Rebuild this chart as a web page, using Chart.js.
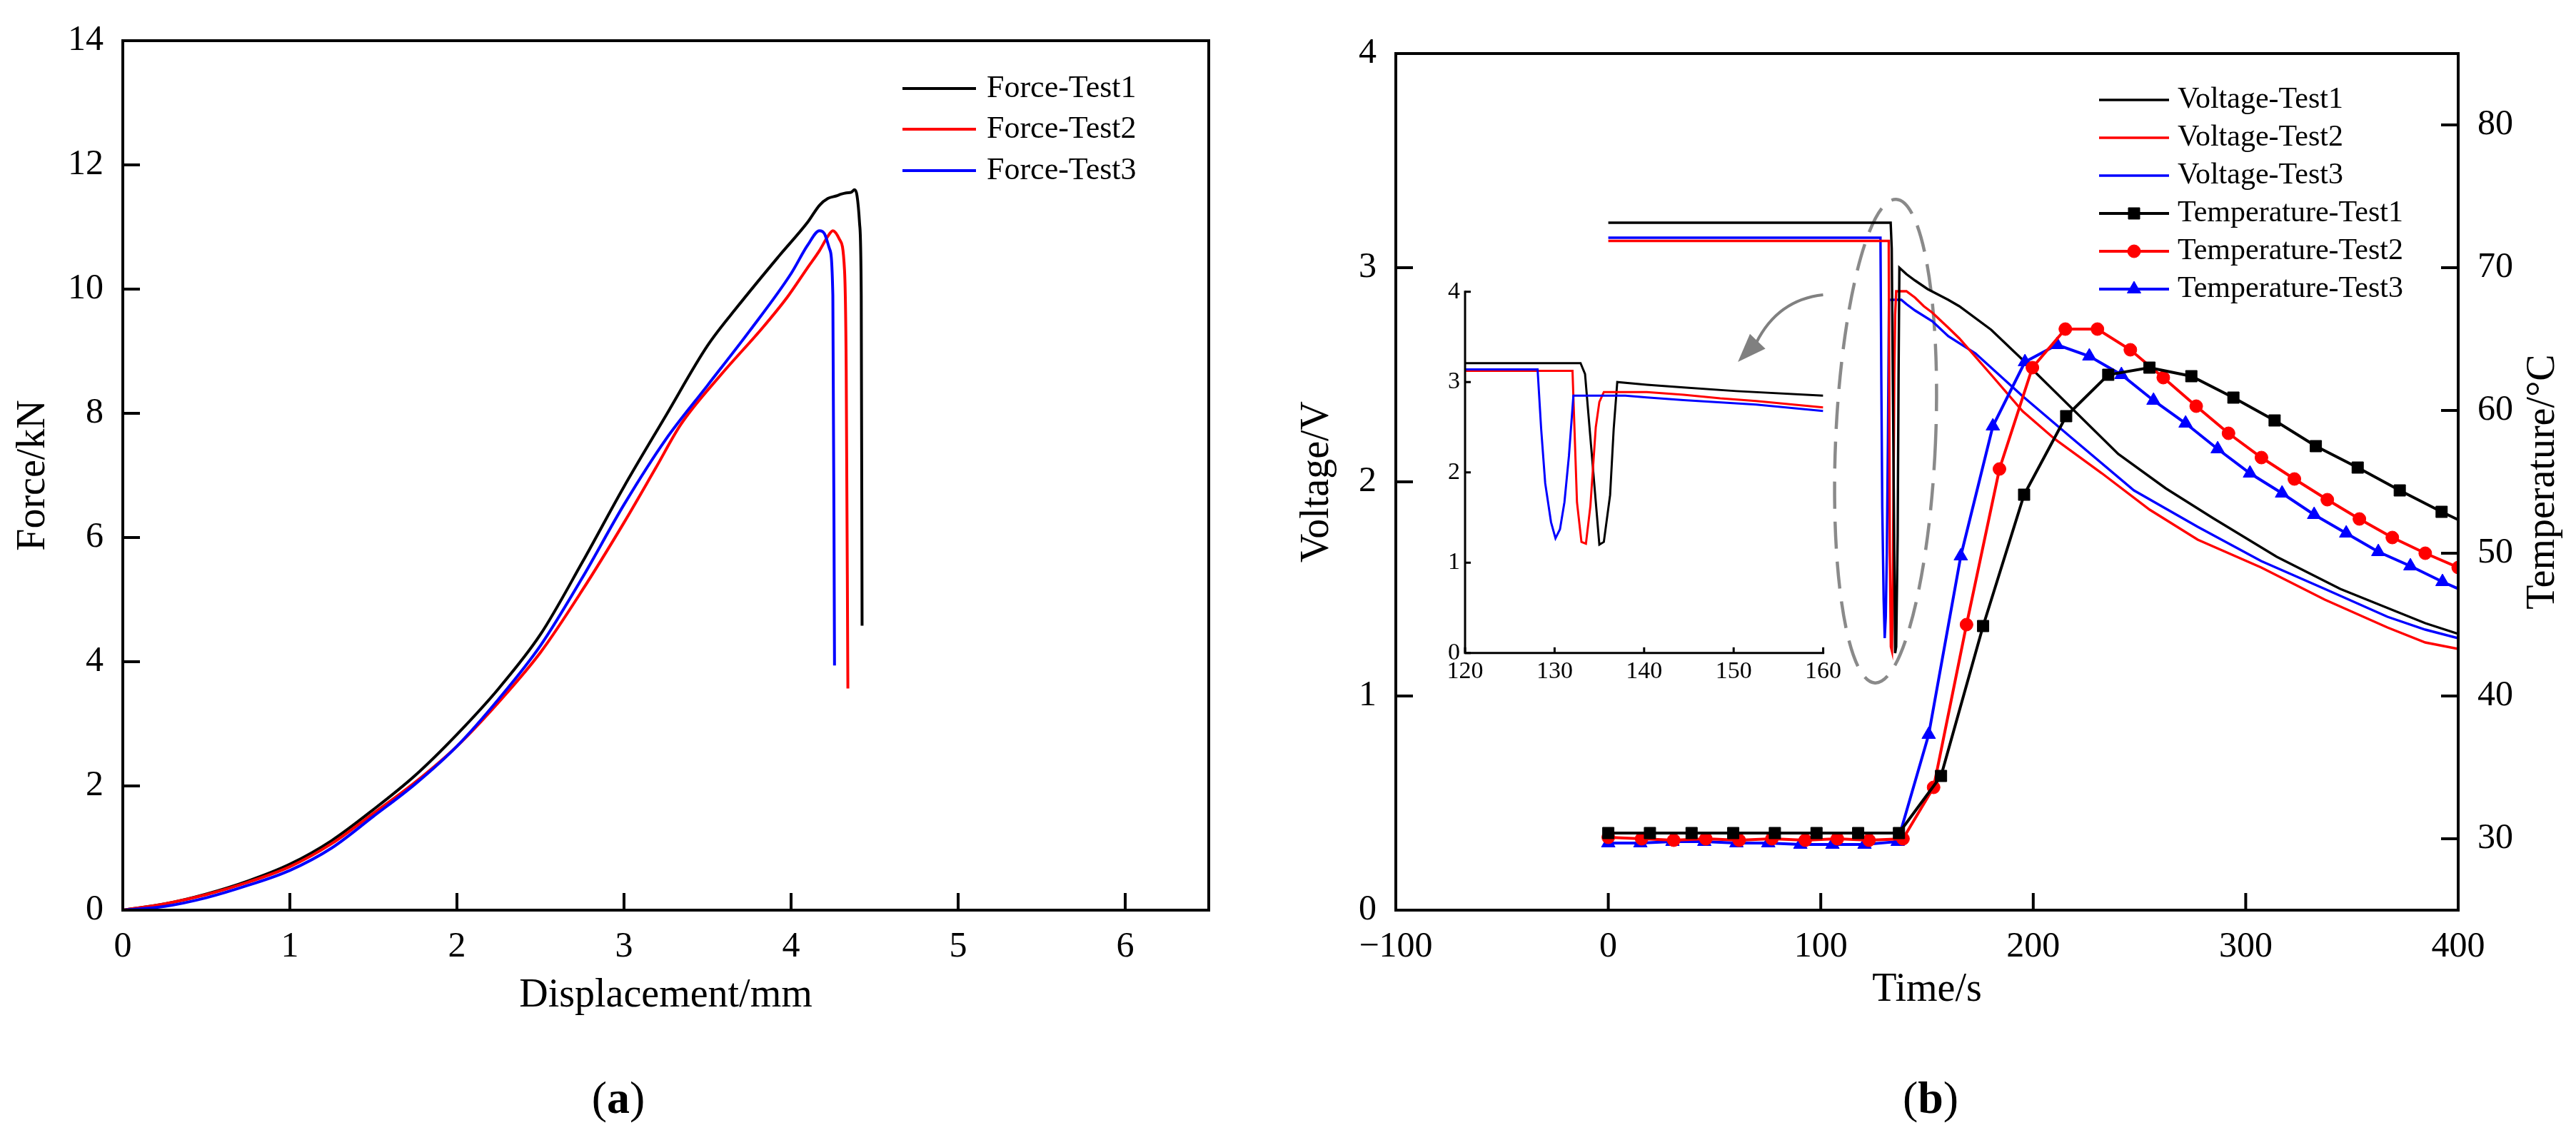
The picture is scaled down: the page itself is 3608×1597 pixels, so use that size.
<!DOCTYPE html>
<html><head><meta charset="utf-8">
<script src="https://cdn.jsdelivr.net/npm/chart.js@4/dist/chart.umd.min.js"></script>
<style>
html,body{margin:0;padding:0;background:#fff;}
#wrap{position:relative;width:3608px;height:1597px;overflow:hidden;background:#fff;}
canvas{position:absolute;}
.panel{position:absolute;font-family:'Liberation Serif','Times New Roman',serif;font-size:64px;line-height:74px;color:#000;transform:translateX(-50%);top:1501px;white-space:nowrap;}
</style></head><body>
<div id="wrap">
<canvas id="ca" width="1800" height="1597" style="left:0;top:0"></canvas>
<canvas id="cb" width="1808" height="1597" style="left:1800px;top:0"></canvas>
<canvas id="ci" width="600" height="590" style="left:1990px;top:380px"></canvas>
<div class="panel" style="left:866px">(<b>a</b>)</div>
<div class="panel" style="left:2704px">(<b>b</b>)</div>
</div>
<script>
// ---------------- DATA ----------------
// (a) Force vs displacement
const forceNames = ['Force-Test1', 'Force-Test2', 'Force-Test3'];
const forceDisp1 = [0, 0.25, 0.5, 0.75, 1, 1.25, 1.5, 1.75, 2, 2.25, 2.5, 2.75, 3, 3.25, 3.5, 3.68, 3.93, 4.1, 4.17, 4.22, 4.27, 4.3, 4.33, 4.36, 4.38, 4.395, 4.41, 4.42, 4.425];
const force1     = [0, 0.1, 0.26, 0.47, 0.74, 1.12, 1.62, 2.17, 2.83, 3.57, 4.44, 5.6, 6.82, 7.96, 9.09, 9.72, 10.54, 11.08, 11.35, 11.46, 11.5, 11.53, 11.55, 11.56, 11.6, 11.5, 11.06, 9.9, 4.58];
const forceDisp2 = [0, 0.25, 0.5, 0.75, 1, 1.25, 1.5, 1.75, 2, 2.25, 2.5, 2.75, 3, 3.19, 3.34, 3.58, 3.83, 3.98, 4.1, 4.17, 4.22, 4.25, 4.29, 4.32, 4.33, 4.34];
const force2     = [0, 0.1, 0.25, 0.45, 0.7, 1.07, 1.56, 2.06, 2.64, 3.35, 4.15, 5.15, 6.24, 7.12, 7.82, 8.62, 9.38, 9.88, 10.35, 10.62, 10.85, 10.94, 10.8, 10.3, 8.7, 3.57];
const forceDisp3 = [0, 0.25, 0.5, 0.75, 1, 1.25, 1.5, 1.75, 2, 2.25, 2.5, 2.75, 3, 3.25, 3.5, 3.75, 4, 4.1, 4.17, 4.2, 4.23, 4.25, 4.26];
const force3     = [0, 0.06, 0.2, 0.4, 0.64, 1.0, 1.51, 2.03, 2.64, 3.4, 4.26, 5.35, 6.53, 7.58, 8.45, 9.32, 10.25, 10.71, 10.94, 10.89, 10.65, 9.9, 3.94];
const dispTicks  = [0, 1, 2, 3, 4, 5, 6];
const forceTicks = [0, 2, 4, 6, 8, 10, 12, 14];

// (b) Voltage vs time
const voltNames = ['Voltage-Test1', 'Voltage-Test2', 'Voltage-Test3'];
const voltTime1 = [0, 132.9, 133.4, 135.0, 135.5, 136.2, 136.6, 137.0, 140.3, 144.4, 150.3, 160, 165.2, 180.2, 195, 217.5, 240, 262.3, 284.7, 314.6, 344.5, 384.5, 400];
const volt1     = [3.21, 3.21, 3.09, 1.20, 1.23, 1.75, 2.48, 3.00, 2.97, 2.94, 2.90, 2.85, 2.82, 2.71, 2.57, 2.35, 2.13, 1.97, 1.83, 1.65, 1.50, 1.34, 1.29];
const voltTime2 = [0, 132, 132.5, 133, 133.5, 134, 134.6, 135, 135.5, 140.3, 144.4, 148.5, 152.5, 160, 165.2, 180.2, 195, 210.1, 232.3, 254.8, 277.4, 307.3, 337.2, 366.7, 384.5, 400];
const volt2     = [3.125, 3.125, 1.67, 1.23, 1.21, 1.63, 2.5, 2.78, 2.89, 2.89, 2.86, 2.82, 2.79, 2.72, 2.67, 2.50, 2.33, 2.20, 2.04, 1.87, 1.73, 1.60, 1.45, 1.32, 1.25, 1.22];
const voltTime3 = [0, 128.1, 128.5, 128.95, 129.6, 130.1, 130.6, 131.1, 131.6, 132.1, 137.9, 140.3, 144.4, 152.5, 160, 172.8, 195, 217.5, 247.4, 277.4, 307.3, 337.2, 366.7, 384.5, 400];
const volt3     = [3.14, 3.14, 2.48, 1.88, 1.45, 1.27, 1.37, 1.67, 2.18, 2.85, 2.85, 2.83, 2.80, 2.75, 2.68, 2.60, 2.40, 2.21, 1.96, 1.79, 1.63, 1.50, 1.37, 1.31, 1.27];

// (b) Temperature vs time
const tempNames = ['Temperature-Test1', 'Temperature-Test2', 'Temperature-Test3'];
const tempTime1 = [0, 19.6, 39.2, 58.8, 78.4, 98, 117.6, 136.8, 156.6, 176.4, 195.7, 215.5, 235.3, 254.7, 274.4, 294.2, 313.6, 333, 352.7, 372.5, 392.2, 411.8];
const temp1     = [30.4, 30.4, 30.4, 30.4, 30.4, 30.4, 30.4, 30.4, 34.4, 44.9, 54.1, 59.6, 62.5, 63.0, 62.4, 60.9, 59.3, 57.5, 56.0, 54.4, 52.9, 51.5];
const tempTime2 = [0, 15.7, 30.8, 45.9, 61.6, 77, 92.7, 107.8, 122.7, 138.7, 153.1, 168.6, 184.1, 199.6, 215.1, 230.2, 245.7, 261.2, 276.7, 291.9, 307.4, 322.9, 338.4, 353.5, 369, 384.5, 400];
const temp2     = [30.1, 30.0, 29.9, 30.0, 29.9, 30.0, 29.9, 30.0, 29.9, 30.0, 33.6, 45.0, 55.9, 63.0, 65.7, 65.7, 64.25, 62.3, 60.3, 58.4, 56.7, 55.2, 53.75, 52.4, 51.1, 50.0, 49.0];
const tempTime3 = [0, 15.1, 30.2, 45.2, 60.3, 75.3, 90.4, 105.5, 120.6, 136.2, 150.8, 165.9, 181, 196.1, 211.2, 226.4, 241.5, 256.6, 271.7, 286.8, 302, 317.1, 332.2, 347.3, 362.4, 377.5, 392.6, 407.7];
const temp3     = [29.7, 29.7, 29.8, 29.8, 29.7, 29.7, 29.6, 29.6, 29.6, 29.8, 37.3, 49.8, 58.9, 63.4, 64.6, 63.8, 62.5, 60.7, 59.1, 57.3, 55.6, 54.2, 52.7, 51.4, 50.1, 49.1, 48.0, 47.0];

const timeTicks  = [-100, 0, 100, 200, 300, 400];
const voltTicks  = [0, 1, 2, 3, 4];
const tempTicks  = [30, 40, 50, 60, 70, 80];
const insetTimeTicks = [120, 130, 140, 150, 160];
const insetVoltTicks = [0, 1, 2, 3, 4];

// ---------------- STYLE / HELPERS ----------------
const FONT = "'Liberation Serif', 'Times New Roman', serif";
Chart.defaults.font.family = FONT;
Chart.defaults.color = '#000';
const COLORS = ['#000000', '#ff0000', '#0000ff'];
const MARKERS = ['rect', 'circle', 'triangle'];
const MARKER_R = [11.3, 9, 11];
const pairs = (xs, ys) => xs.map((x, i) => ({x: x, y: ys[i]}));
const setTicks = vals => (s => { s.ticks = vals.map(v => ({value: v})); });
const fmtMinus = v => (v < 0 ? '\u2212' + Math.abs(v) : String(v));

function framePlugin(cfg) {
  return {
    id: 'frame_' + cfg.id,
    afterDatasetsDraw(chart) {
      const ctx = chart.ctx, a = chart.chartArea;
      ctx.save();
      ctx.strokeStyle = '#000';
      ctx.lineWidth = cfg.lw;
      ctx.setLineDash([]);
      ctx.lineCap = 'butt';
      cfg.ticks.forEach(t => {
        const s = chart.scales[t.id];
        t.values.forEach(v => {
          const p = s.getPixelForValue(v);
          ctx.beginPath();
          if (t.side === 'bottom') { ctx.moveTo(p, a.bottom); ctx.lineTo(p, a.bottom - cfg.len); }
          else if (t.side === 'left') { ctx.moveTo(a.left, p); ctx.lineTo(a.left + cfg.len, p); }
          else { ctx.moveTo(a.right, p); ctx.lineTo(a.right - cfg.len, p); }
          ctx.stroke();
        });
      });
      ctx.lineCap = 'square';
      ctx.beginPath();
      if (cfg.box) {
        ctx.rect(a.left, a.top, a.right - a.left, a.bottom - a.top);
      } else {
        ctx.moveTo(a.left, a.top); ctx.lineTo(a.left, a.bottom); ctx.lineTo(a.right, a.bottom);
      }
      ctx.stroke();
      ctx.restore();
    }
  };
}

function legendPlugin(cfg) {
  return {
    id: 'legend_' + cfg.id,
    afterDraw(chart) {
      const ctx = chart.ctx;
      ctx.save();
      ctx.font = cfg.size + 'px ' + FONT;
      ctx.textBaseline = 'middle';
      ctx.textAlign = 'left';
      cfg.items.forEach((it, i) => {
        const y = cfg.rows[i];
        ctx.strokeStyle = it.color;
        ctx.lineWidth = it.lw;
        ctx.beginPath(); ctx.moveTo(cfg.x0, y); ctx.lineTo(cfg.x1, y); ctx.stroke();
        if (it.marker) {
          ctx.fillStyle = it.color; ctx.strokeStyle = it.color; ctx.lineWidth = 1;
          Chart.helpers.drawPoint(ctx, {pointStyle: it.marker, radius: it.r, borderWidth: 1, rotation: 0},
            (cfg.x0 + cfg.x1) / 2, y);
        }
        ctx.fillStyle = '#000';
        ctx.fillText(it.label, cfg.tx, y);
      });
      ctx.restore();
    }
  };
}

// ---------------- CHART (a) ----------------
const forceDispAll = [forceDisp1, forceDisp2, forceDisp3];
const forceAll = [force1, force2, force3];
new Chart(document.getElementById('ca'), {
  type: 'line',
  data: {
    datasets: forceNames.map((n, i) => ({
      label: n, data: pairs(forceDispAll[i], forceAll[i]),
      borderColor: COLORS[i], backgroundColor: COLORS[i], borderWidth: 4,
      pointRadius: 0, cubicInterpolationMode: 'monotone', fill: false,
      order: 3 - i
    }))
  },
  options: {
    responsive: false, animation: false, devicePixelRatio: 1,
    layout: {padding: {left: 0, top: 50, right: 107, bottom: 162}},
    plugins: {legend: {display: false}, tooltip: {enabled: false}},
    scales: {
      x: {
        type: 'linear', min: 0, max: 6.5,
        afterBuildTicks: setTicks(dispTicks), afterFit: s => { s.height = 160; },
        grid: {display: false, drawTicks: false}, border: {display: false},
        ticks: {font: {size: 50}, padding: 22, maxRotation: 0, autoSkip: false},
        title: {display: true, text: 'Displacement/mm', font: {size: 56}, padding: {top: 0, bottom: 6}}
      },
      y: {
        type: 'linear', min: 0, max: 14,
        afterBuildTicks: setTicks(forceTicks), afterFit: s => { s.width = 172; },
        grid: {display: false, drawTicks: false}, border: {display: false},
        ticks: {font: {size: 50}, padding: 27, autoSkip: false},
        title: {display: true, text: 'Force/kN', font: {size: 56}, padding: {top: 14, bottom: 0}}
      }
    }
  },
  plugins: [
    framePlugin({id: 'a', lw: 4, len: 24, box: true, ticks: [
      {id: 'x', side: 'bottom', values: dispTicks}, {id: 'y', side: 'left', values: forceTicks}]}),
    legendPlugin({id: 'a', size: 44, x0: 1264, x1: 1367, tx: 1382, rows: [124, 181, 239],
      items: forceNames.map((n, i) => ({label: n, color: COLORS[i], lw: 4}))})
  ]
});

// ---------------- CHART (b) ----------------
const voltTimeAll = [voltTime1, voltTime2, voltTime3];
const voltAll = [volt1, volt2, volt3];
const tempTimeAll = [tempTime1, tempTime2, tempTime3];
const tempAll = [temp1, temp2, temp3];

// annotation anchors (in data units)
const ellipseCenter = {t: 130.5, v: 2.19};
const ellipseRadius = {t: 23.5, v: 1.13};
const arrowPath = {start: [101.1, 2.873], ctrl: [79.8, 2.85], base: [69.7, 2.65], tip: [61.0, 2.56]};

const annotPlugin = {
  id: 'annot',
  beforeDatasetsDraw(chart) {
    const ctx = chart.ctx, xs = chart.scales.x, ys = chart.scales.y;
    const ex = xs.getPixelForValue(ellipseCenter.t), ey = ys.getPixelForValue(ellipseCenter.v);
    const rx = xs.getPixelForValue(ellipseCenter.t + ellipseRadius.t) - ex;
    const ry = ey - ys.getPixelForValue(ellipseCenter.v + ellipseRadius.v);
    ctx.save();
    ctx.strokeStyle = '#8a8a8a'; ctx.lineWidth = 4.5;
    ctx.setLineDash([38, 18]);
    ctx.beginPath(); ctx.ellipse(ex, ey, rx, ry, 2.5 * Math.PI / 180, 0, 2 * Math.PI); ctx.stroke();
    ctx.setLineDash([]);
    const P = p => [xs.getPixelForValue(p[0]), ys.getPixelForValue(p[1])];
    const s = P(arrowPath.start), c = P(arrowPath.ctrl), b = P(arrowPath.base), tp = P(arrowPath.tip);
    ctx.strokeStyle = '#808080'; ctx.lineWidth = 4;
    ctx.beginPath(); ctx.moveTo(s[0], s[1]); ctx.quadraticCurveTo(c[0], c[1], b[0], b[1]); ctx.stroke();
    const ang = Math.atan2(tp[1] - b[1], tp[0] - b[0]);
    const L = 40, W = 15;
    const bx = tp[0] - L * Math.cos(ang), by = tp[1] - L * Math.sin(ang);
    ctx.fillStyle = '#808080';
    ctx.beginPath();
    ctx.moveTo(tp[0], tp[1]);
    ctx.lineTo(bx + W * Math.sin(ang), by - W * Math.cos(ang));
    ctx.lineTo(bx - W * Math.sin(ang), by + W * Math.cos(ang));
    ctx.closePath(); ctx.fill();
    ctx.restore();
  },
  afterDraw(chart) {
    const ctx = chart.ctx, a = chart.chartArea;
    ctx.save();
    ctx.font = '56px ' + FONT;
    ctx.fillStyle = '#000';
    ctx.textAlign = 'center'; ctx.textBaseline = 'middle';
    ctx.translate(1762, (a.top + a.bottom) / 2);
    ctx.rotate(-Math.PI / 2);
    ctx.fillText('Temperature/\u00B0C', 0, 0);
    ctx.restore();
  }
};

const bDatasets = [];
tempNames.forEach((n, i) => bDatasets.push({
  label: n, yAxisID: 'y2', data: pairs(tempTimeAll[i], tempAll[i]),
  borderColor: COLORS[i], backgroundColor: COLORS[i], borderWidth: 4,
  pointStyle: MARKERS[i], pointRadius: MARKER_R[i], pointBorderWidth: 1,
  pointBackgroundColor: COLORS[i], pointBorderColor: COLORS[i],
  tension: 0, fill: false, order: 1
}));
voltNames.forEach((n, i) => bDatasets.push({
  label: n, yAxisID: 'y', data: pairs(voltTimeAll[i], voltAll[i]),
  borderColor: COLORS[i], backgroundColor: COLORS[i], borderWidth: 3.4,
  pointRadius: 0, tension: 0, fill: false, order: 2
}));

new Chart(document.getElementById('cb'), {
  type: 'line',
  data: {datasets: bDatasets},
  options: {
    responsive: false, animation: false, devicePixelRatio: 1,
    layout: {padding: {left: 0, top: 75, right: 0, bottom: 162}},
    plugins: {legend: {display: false}, tooltip: {enabled: false}},
    scales: {
      x: {
        type: 'linear', min: -100, max: 400,
        afterBuildTicks: setTicks(timeTicks), afterFit: s => { s.height = 160; },
        grid: {display: false, drawTicks: false}, border: {display: false},
        ticks: {font: {size: 50}, padding: 22, maxRotation: 0, autoSkip: false, callback: v => fmtMinus(v)},
        title: {display: true, text: 'Time/s', font: {size: 56}, padding: {top: 0, bottom: 14}}
      },
      y: {
        type: 'linear', position: 'left', min: 0, max: 4,
        afterBuildTicks: setTicks(voltTicks), afterFit: s => { s.width = 155; },
        grid: {display: false, drawTicks: false}, border: {display: false},
        ticks: {font: {size: 50}, padding: 27, autoSkip: false},
        title: {display: true, text: 'Voltage/V', font: {size: 56}, padding: {top: 12, bottom: 0}}
      },
      y2: {
        type: 'linear', position: 'right', min: 25, max: 85,
        afterBuildTicks: setTicks(tempTicks), afterFit: s => { s.width = 165; },
        grid: {display: false, drawTicks: false}, border: {display: false},
        ticks: {font: {size: 50}, padding: 27, autoSkip: false},
        title: {display: false}
      }
    }
  },
  plugins: [
    annotPlugin,
    framePlugin({id: 'b', lw: 4, len: 24, box: true, ticks: [
      {id: 'x', side: 'bottom', values: timeTicks}, {id: 'y', side: 'left', values: voltTicks},
      {id: 'y2', side: 'right', values: tempTicks}]}),
    legendPlugin({id: 'b', size: 42, x0: 1140, x1: 1238, tx: 1250, rows: [140, 193, 246, 299, 352, 405],
      items: voltNames.map((n, i) => ({label: n, color: COLORS[i], lw: 3.4}))
        .concat(tempNames.map((n, i) => ({label: n, color: COLORS[i], lw: 4, marker: MARKERS[i], r: MARKER_R[i]})))})
  ]
});

// ---------------- INSET ----------------
new Chart(document.getElementById('ci'), {
  type: 'line',
  data: {
    datasets: voltNames.map((n, i) => ({
      label: n, data: pairs(voltTimeAll[i], voltAll[i]),
      borderColor: COLORS[i], backgroundColor: COLORS[i], borderWidth: 3,
      pointRadius: 0, tension: 0, fill: false, order: 3 - i
    }))
  },
  options: {
    responsive: false, animation: false, devicePixelRatio: 1,
    layout: {padding: {left: 0, top: 28.7, right: 36.4, bottom: 0}},
    plugins: {legend: {display: false}, tooltip: {enabled: false}},
    scales: {
      x: {
        type: 'linear', min: 120, max: 160,
        afterBuildTicks: setTicks(insetTimeTicks), afterFit: s => { s.height = 55.2; },
        grid: {display: false, drawTicks: false}, border: {display: false},
        ticks: {font: {size: 34}, padding: 6, maxRotation: 0, autoSkip: false}
      },
      y: {
        type: 'linear', min: 0, max: 4,
        afterBuildTicks: setTicks(insetVoltTicks), afterFit: s => { s.width = 62; },
        grid: {display: false, drawTicks: false}, border: {display: false},
        ticks: {font: {size: 34}, padding: 7, autoSkip: false}
      }
    }
  },
  plugins: [
    framePlugin({id: 'i', lw: 3, len: 8, box: false, ticks: [
      {id: 'x', side: 'bottom', values: insetTimeTicks}, {id: 'y', side: 'left', values: insetVoltTicks}]})
  ]
});
</script>
</body></html>
